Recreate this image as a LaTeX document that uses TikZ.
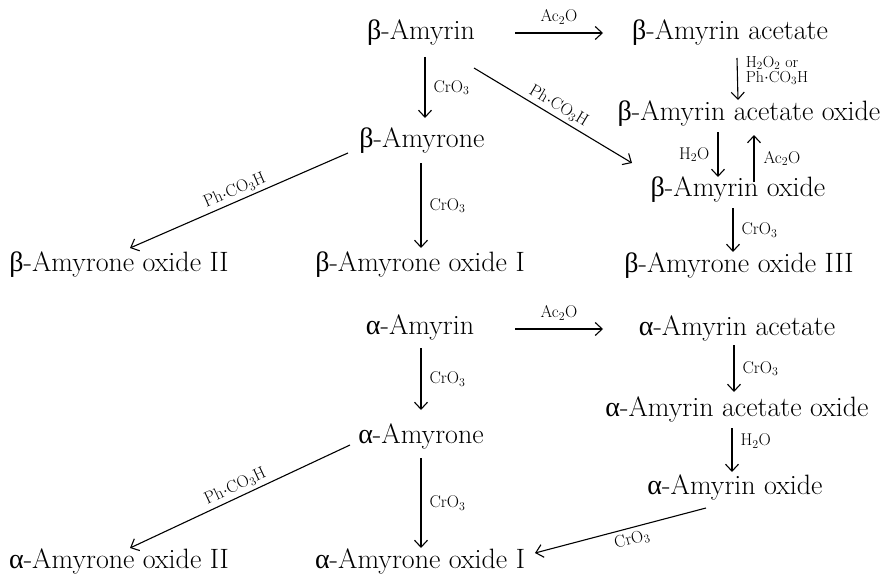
\documentclass[tikz,border=0pt]{standalone}
\usepackage{fontspec}
\newfontfamily\grkfont{Liberation Serif}
\newcommand{\gb}{{\grkfont β}}
\newcommand{\ga}{{\grkfont α}}
\newcommand{\phco}{Ph$\cdot$CO\textsubscript{3}H}
\usetikzlibrary{arrows.meta}
\begin{document}
\begin{tikzpicture}[x=1pt,y=-1pt,
  cmp/.style={inner sep=0pt,text height=19pt,text depth=6pt,font=\fontsize{28}{32}\selectfont},
  lab/.style={inner sep=0pt,font=\fontsize{17}{19}\selectfont},
  arr/.style={line width=1.1pt,-{Straight Barb[length=7pt,width=13pt,line width=1.1pt]}}]
\useasboundingbox (0,0) rectangle (881,578);
% beta series
\node[cmp] (bA)     at (421,33)  {\gb-Amyrin};
\node[cmp] (bAac)   at (730,33)  {\gb-Amyrin acetate};
\node[cmp] (bAacox) at (749,114) {\gb-Amyrin acetate oxide};
\node[cmp] (bAox)   at (738,190) {\gb-Amyrin oxide};
\node[cmp] (bAoIII) at (739,266) {\gb-Amyrone oxide III};
\node[cmp] (bAone)  at (422,141) {\gb-Amyrone};
\node[cmp] (bAoII)  at (119,265) {\gb-Amyrone oxide II};
\node[cmp] (bAoI)   at (420,265) {\gb-Amyrone oxide I};
% alpha series
\node[cmp] (aA)     at (420,328) {\ga-Amyrin};
\node[cmp] (aAac)   at (737,329) {\ga-Amyrin acetate};
\node[cmp] (aAacox) at (737,410) {\ga-Amyrin acetate oxide};
\node[cmp] (aAox)   at (735,488) {\ga-Amyrin oxide};
\node[cmp] (aAone)  at (421,437) {\ga-Amyrone};
\node[cmp] (aAoII)  at (119,562) {\ga-Amyrone oxide II};
\node[cmp] (aAoI)   at (420,562) {\ga-Amyrone oxide I};
% beta arrows
\draw[arr] ([shift={(94,0)}]bA.center) -- node[lab,midway,above=8pt]{Ac\textsubscript{2}O} ([shift={(-127,0)}]bAac.center);
\draw[arr] ([shift={(4,24)}]bA.center) -- node[lab,midway,right=8pt]{CrO\textsubscript{3}} ([shift={(3,-23)}]bAone.center);
\draw[arr] ([shift={(53,35)}]bA.center) -- node[lab,midway,above=3pt,sloped]{\phco} ([shift={(-106,-27)}]bAox.center);
\draw[arr] ([shift={(7,25)}]bAac.center) -- node[lab,pos=0.3,right=8pt,align=left,font=\fontsize{16}{15}\selectfont]{H\textsubscript{2}O\textsubscript{2} or\\\phco} ([shift={(-11,-14)}]bAacox.center);
\draw[arr] ([shift={(-31,18)}]bAacox.center) -- node[lab,midway,left=8pt]{H\textsubscript{2}O} ([shift={(-20,-13)}]bAox.center);
\draw[arr] ([shift={(16,-8)}]bAox.center) -- node[lab,midway,right=9pt]{Ac\textsubscript{2}O} ([shift={(5,21)}]bAacox.center);
\draw[arr] ([shift={(-5,18)}]bAox.center) -- node[lab,midway,right=8pt]{CrO\textsubscript{3}} ([shift={(-6,-14)}]bAoIII.center);
\draw[arr] ([shift={(-1,22)}]bAone.center) -- node[lab,midway,right=8pt]{CrO\textsubscript{3}} ([shift={(1,-17)}]bAoI.center);
\draw[arr] ([shift={(-74,12)}]bAone.center) -- node[lab,midway,above=3pt,sloped]{\phco} ([shift={(11,-17)}]bAoII.center);
% alpha arrows
\draw[arr] ([shift={(95,1)}]aA.center) -- node[lab,midway,above=8pt]{Ac\textsubscript{2}O} ([shift={(-134,0)}]aAac.center);
\draw[arr] ([shift={(1,20)}]aA.center) -- node[lab,midway,right=8pt]{CrO\textsubscript{3}} ([shift={(0,-27)}]aAone.center);
\draw[arr] ([shift={(-3,16)}]aAac.center) -- node[lab,midway,right=8pt]{CrO\textsubscript{3}} ([shift={(-3,-18)}]aAacox.center);
\draw[arr] ([shift={(-5,18)}]aAacox.center) -- node[lab,pos=0.3,right=8pt]{H\textsubscript{2}O} ([shift={(-3,-16)}]aAox.center);
\draw[arr] ([shift={(0,21)}]aAone.center) -- node[lab,midway,right=8pt]{CrO\textsubscript{3}} ([shift={(1,-14)}]aAoI.center);
\draw[arr] ([shift={(-71,8)}]aAone.center) -- node[lab,midway,above=3pt,sloped]{\phco} ([shift={(11,-14)}]aAoII.center);
\draw[arr] ([shift={(-29,20)}]aAox.center) -- node[lab,pos=0.45,below=4pt,sloped]{CrO\textsubscript{3}} ([shift={(115,-9)}]aAoI.center);
\end{tikzpicture}
\end{document}
